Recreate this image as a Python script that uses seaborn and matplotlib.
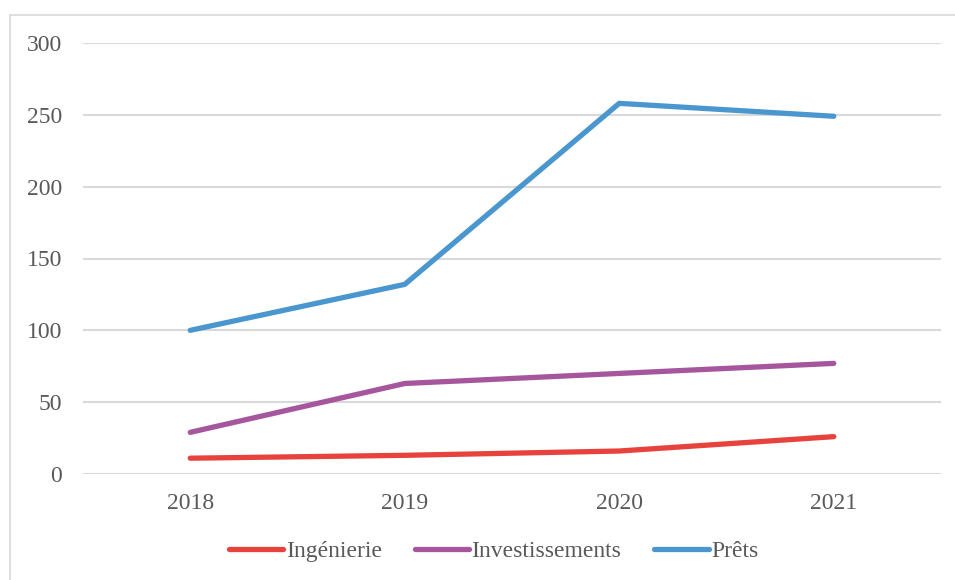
import matplotlib
matplotlib.use("Agg")
import matplotlib.pyplot as plt
import seaborn as sns
import pandas as pd
from matplotlib.lines import Line2D

years = ["2018", "2019", "2020", "2021"]
ingenierie = [11, 13, 16, 26]
investissements = [29, 63, 70, 77]
prets = [100, 132, 258, 249]
series_names = ["Ingénierie", "Investissements", "Prêts"]
colors = ["#E8423D", "#A5569C", "#4A97CF"]
y_ticks = [0, 50, 100, 150, 200, 250, 300]

df = pd.DataFrame({
    "Année": years * 3,
    "Valeur": ingenierie + investissements + prets,
    "Série": [series_names[0]] * 4 + [series_names[1]] * 4 + [series_names[2]] * 4,
})

sns.set_style("white")
plt.rcParams["font.family"] = ["Liberation Serif", "DejaVu Serif"]
plt.rcParams["lines.solid_capstyle"] = "round"
plt.rcParams["lines.solid_joinstyle"] = "round"

text_color = "#595959"
grid_color = "#D9D9D9"

fig = plt.figure(figsize=(9.55, 5.8), dpi=100)
ax = fig.add_axes([83 / 955, 1 - 474 / 580, (941 - 83) / 955, (474 - 43) / 580])

sns.lineplot(data=df, x="Année", y="Valeur", hue="Série", hue_order=series_names,
             palette=colors, linewidth=3.8, sort=False, legend=False, ax=ax)

ax.set_xlim(-0.5, 3.5)
ax.set_ylim(0, 300)
ax.set_yticks(y_ticks)
ax.set_yticklabels([str(v) for v in y_ticks])
ax.set_xlabel("")
ax.set_ylabel("")
for s in ax.spines.values():
    s.set_visible(False)
ax.yaxis.grid(True, color=grid_color, linewidth=1.5)
ax.xaxis.grid(False)
ax.set_axisbelow(True)
ax.tick_params(axis="both", length=0, labelsize=17, colors=text_color)
ax.tick_params(axis="y", pad=15)
ax.tick_params(axis="x", pad=14)

handles = [Line2D([0], [0], color=c, linewidth=3.8, solid_capstyle="round") for c in colors]
leg = fig.legend(handles, series_names, loc="center", bbox_to_anchor=(0.517, 1 - 551 / 580),
                 ncol=3, frameon=False, fontsize=17, handlelength=2.3, handletextpad=0.1,
                 columnspacing=1.4)
for t in leg.get_texts():
    t.set_color(text_color)

# light outer frame on the top and left edges
fig.add_artist(Line2D([9.5 / 955, 9.5 / 955], [0, 1 - 14.5 / 580], transform=fig.transFigure,
                      color="#D9D9D9", linewidth=1.2))
fig.add_artist(Line2D([9.5 / 955, 1], [1 - 14.5 / 580, 1 - 14.5 / 580], transform=fig.transFigure,
                      color="#D9D9D9", linewidth=1.2))

fig.savefig("out.png", dpi=100, facecolor="white")
